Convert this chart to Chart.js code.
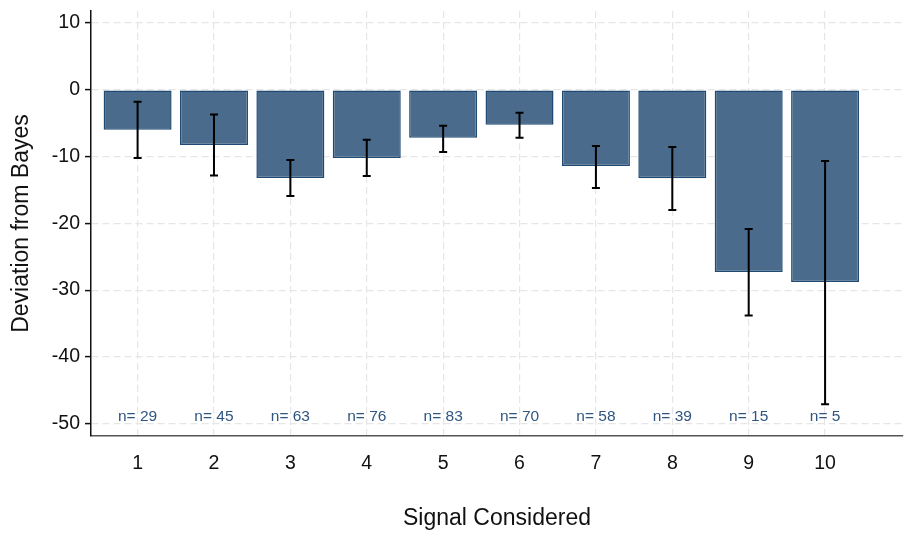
<!DOCTYPE html>
<html>
<head>
  <title>Deviation from Bayes</title>
  <script src="https://cdn.jsdelivr.net/npm/chart.js"></script>
  <style>
    body{
      margin:0px;
      padding:0px;
      background-color:white;
    }
    #wrap{
      width:904px;
      height:533px;
    }
  </style>
</head>
<body>
<div id="wrap">
  <canvas id="chart"></canvas>
</div>
<script>
  // data
  var signals = [1, 2, 3, 4, 5, 6, 7, 8, 9, 10];
  var deviation = [-6.0, -8.25, -13.2, -10.2, -7.2, -5.25, -11.4, -13.25, -27.3, -28.8];
  var ciHigh = [-1.8, -3.7, -10.5, -7.5, -5.4, -3.45, -8.4, -8.55, -20.85, -10.65];
  var ciLow = [-10.2, -12.85, -15.9, -12.9, -9.3, -7.2, -14.7, -18.0, -33.8, -47.1];
  var counts = [29, 45, 63, 76, 83, 70, 58, 39, 15, 5];
  var yTicks = [10, 0, -10, -20, -30, -40, -50];
  var nLabelY = -49;

  var points = signals.map(function(s, i){ return {x: s, y: deviation[i]}; });

  // error bars and n= labels, positioned via the chart scales
  var extras = {
    id: 'extras',
    afterDatasetsDraw: function(chart){
      var ctx = chart.ctx;
      var xs = chart.scales.x, ys = chart.scales.y;
      ctx.save();
      ctx.strokeStyle = 'black';
      ctx.lineWidth = 2;
      for (var i = 0; i < signals.length; i++) {
        var x = xs.getPixelForValue(signals[i]);
        var y1 = ys.getPixelForValue(ciHigh[i]);
        var y2 = ys.getPixelForValue(ciLow[i]);
        ctx.beginPath();
        ctx.moveTo(x, y1); ctx.lineTo(x, y2);
        ctx.moveTo(x - 4, y1); ctx.lineTo(x + 4, y1);
        ctx.moveTo(x - 4, y2); ctx.lineTo(x + 4, y2);
        ctx.stroke();
      }
      ctx.fillStyle = '#2f5680';
      ctx.font = '15.5px "Liberation Sans", Arial, sans-serif';
      ctx.textAlign = 'center';
      ctx.textBaseline = 'middle';
      for (var j = 0; j < signals.length; j++) {
        ctx.fillText('n= ' + counts[j], xs.getPixelForValue(signals[j]), ys.getPixelForValue(nLabelY));
      }
      ctx.restore();
    }
  };

  var ctx = document.getElementById('chart').getContext('2d');
  var chart = new Chart(ctx, {
    type: 'bar',
    data: {
      datasets: [{
        label: 'Deviation',
        data: points,
        backgroundColor: '#4a6b8b',
        borderColor: '#1f4a73',
        borderWidth: 1.5,
        borderSkipped: false,
        barPercentage: 0.89,
        categoryPercentage: 1.0
      }]
    },
    plugins: [extras],
    options: {
      responsive: true,
      maintainAspectRatio: false,
      animation: false,
      layout: { padding: { top: 11, right: 1, left: 0, bottom: 0 } },
      plugins: {
        legend: { display: false },
        tooltip: { enabled: false }
      },
      scales: {
        x: {
          type: 'linear',
          min: 0.39,
          max: 11.02,
          offset: false,
          afterBuildTicks: function(scale){
            scale.ticks = signals.map(function(v){ return {value: v}; });
          },
          afterFit: function(scale){ scale.height = 97; },
          border: { color: '#555', width: 1.5, dash: [7, 4] },
          grid: {
            offset: false,
            color: '#e6e6e6',
            lineWidth: 1.2,
            drawTicks: false
          },
          ticks: {
            color: '#111',
            padding: 16,
            font: { size: 19.5, family: '"Liberation Sans", Arial, sans-serif' }
          },
          title: {
            display: true,
            text: 'Signal Considered',
            color: '#111',
            padding: { top: 0, bottom: 1 },
            font: { size: 23, family: '"Liberation Sans", Arial, sans-serif' }
          }
        },
        y: {
          min: -51.85,
          max: 11.8,
          afterBuildTicks: function(scale){
            scale.ticks = yTicks.map(function(v){ return {value: v}; });
          },
          afterFit: function(scale){
            scale.width = 91;
            scale.paddingTop = 0;
            scale.paddingBottom = 0;
          },
          border: { color: '#111', width: 1.5, dash: [7, 4] },
          grid: {
            color: '#e6e6e6',
            lineWidth: 1.2,
            tickColor: '#111',
            tickLength: 6,
            tickBorderDash: [],
            tickWidth: 1.5
          },
          ticks: {
            color: '#111',
            padding: 5,
            font: { size: 19.5, family: '"Liberation Sans", Arial, sans-serif' }
          },
          title: {
            display: true,
            text: 'Deviation from Bayes',
            color: '#111',
            padding: { top: 8, bottom: 0 },
            font: { size: 23, family: '"Liberation Sans", Arial, sans-serif' }
          }
        }
      }
    }
  });
</script>
</body>
</html>
